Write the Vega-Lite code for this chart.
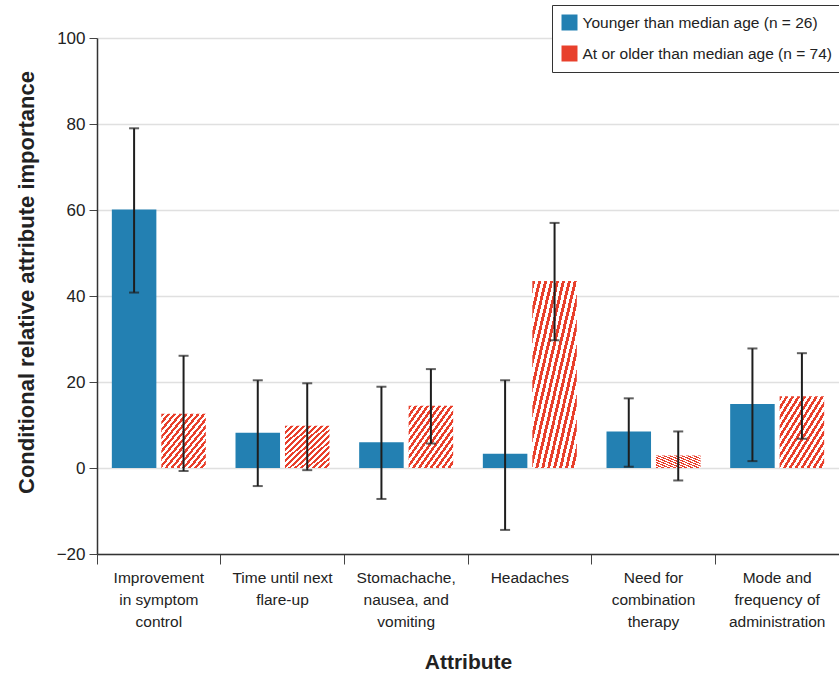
{
  "$schema": "https://vega.github.io/schema/vega-lite/v6.json",
  "width": 742,
  "height": 516,
  "autosize": {"type": "none"},
  "padding": {"left": 97, "top": 38, "right": 0, "bottom": 120},
  "background": "white",
  "data": {
    "values": [
      {"attribute": "Improvement in symptom control", "group": "Younger than median age (n = 26)", "value": 60.1, "lo": 40.8, "hi": 79.0},
      {"attribute": "Improvement in symptom control", "group": "At or older than median age (n = 74)", "value": 12.6, "lo": -0.7, "hi": 26.1},
      {"attribute": "Time until next flare-up", "group": "Younger than median age (n = 26)", "value": 8.2, "lo": -4.2, "hi": 20.4},
      {"attribute": "Time until next flare-up", "group": "At or older than median age (n = 74)", "value": 9.8, "lo": -0.5, "hi": 19.7},
      {"attribute": "Stomachache, nausea, and vomiting", "group": "Younger than median age (n = 26)", "value": 6.0, "lo": -7.2, "hi": 18.9},
      {"attribute": "Stomachache, nausea, and vomiting", "group": "At or older than median age (n = 74)", "value": 14.5, "lo": 5.7, "hi": 23.0},
      {"attribute": "Headaches", "group": "Younger than median age (n = 26)", "value": 3.3, "lo": -14.4, "hi": 20.4},
      {"attribute": "Headaches", "group": "At or older than median age (n = 74)", "value": 43.5, "lo": 29.7, "hi": 57.0},
      {"attribute": "Need for combination therapy", "group": "Younger than median age (n = 26)", "value": 8.5, "lo": 0.3, "hi": 16.2},
      {"attribute": "Need for combination therapy", "group": "At or older than median age (n = 74)", "value": 2.9, "lo": -2.9, "hi": 8.5},
      {"attribute": "Mode and frequency of administration", "group": "Younger than median age (n = 26)", "value": 14.9, "lo": 1.6, "hi": 27.8},
      {"attribute": "Mode and frequency of administration", "group": "At or older than median age (n = 74)", "value": 16.7, "lo": 6.8, "hi": 26.7}
    ]
  },
  "encoding": {
    "x": {
      "field": "attribute",
      "type": "nominal",
      "sort": null,
      "scale": {"paddingInner": 0, "paddingOuter": 0},
      "axis": {
        "title": "Attribute",
        "titleFont": "Liberation Sans, sans-serif",
        "titleFontSize": 21,
        "titleFontWeight": "bold",
        "titleColor": "#222",
        "titleBaseline": "alphabetic",
        "titleY": 114,
        "labelAngle": 0,
        "labelFont": "Liberation Sans, sans-serif",
        "labelFontSize": 15.5,
        "labelColor": "#222",
        "labelLineHeight": 22,
        "labelPadding": 6,
        "labelExpr": "datum.value == 'Improvement in symptom control' ? ['Improvement', 'in symptom', 'control'] : datum.value == 'Time until next flare-up' ? ['Time until next', 'flare-up'] : datum.value == 'Stomachache, nausea, and vomiting' ? ['Stomachache,', 'nausea, and', 'vomiting'] : datum.value == 'Need for combination therapy' ? ['Need for', 'combination', 'therapy'] : datum.value == 'Mode and frequency of administration' ? ['Mode and', 'frequency of', 'administration'] : datum.value",
        "bandPosition": 0,
        "tickSize": 10,
        "tickColor": "#444",
        "tickWidth": 1,
        "domainColor": "#333",
        "domainWidth": 1.5,
        "grid": false
      }
    },
    "xOffset": {
      "field": "group",
      "type": "nominal",
      "sort": ["Younger than median age (n = 26)", "At or older than median age (n = 74)"],
      "scale": {"paddingInner": 0.1, "paddingOuter": 0.3}
    }
  },
  "layer": [
    {
      "mark": {"type": "bar"},
      "encoding": {
        "y": {
          "field": "value",
          "type": "quantitative",
          "scale": {"domain": [-20, 100], "nice": false, "zero": false},
          "axis": {
            "title": "Conditional relative attribute importance",
            "titleFont": "Liberation Sans, sans-serif",
            "titleFontSize": 22,
            "titleFontWeight": "bold",
            "titleColor": "#222",
            "titleX": -59,
            "titleY": 244,
            "titleBaseline": "bottom",
            "values": [-20, 0, 20, 40, 60, 80, 100],
            "labelExpr": "datum.value < 0 ? '\u221220' : datum.label",
            "labelFont": "Liberation Sans, sans-serif",
            "labelFontSize": 17,
            "labelColor": "#222",
            "labelPadding": 4,
            "tickSize": 8,
            "tickColor": "#444",
            "domainColor": "#333",
            "domainWidth": 1.5,
            "grid": true,
            "gridColor": "#e0e0e0",
            "gridWidth": 1.5
          }
        },
        "color": {
          "condition": {
            "test": "datum.group == 'At or older than median age (n = 74)'",
            "value": {
              "gradient": "linear",
              "x1": 0, "y1": 0, "x2": 1, "y2": 1,
              "stops": [
                {"offset": 0, "color": "#e8402c"}, {"offset": 0.0333, "color": "#e8402c"}, {"offset": 0.0333, "color": "#ffffff"}, {"offset": 0.0667, "color": "#ffffff"},
                {"offset": 0.0667, "color": "#e8402c"}, {"offset": 0.1, "color": "#e8402c"}, {"offset": 0.1, "color": "#ffffff"}, {"offset": 0.1333, "color": "#ffffff"},
                {"offset": 0.1333, "color": "#e8402c"}, {"offset": 0.1667, "color": "#e8402c"}, {"offset": 0.1667, "color": "#ffffff"}, {"offset": 0.2, "color": "#ffffff"},
                {"offset": 0.2, "color": "#e8402c"}, {"offset": 0.2333, "color": "#e8402c"}, {"offset": 0.2333, "color": "#ffffff"}, {"offset": 0.2667, "color": "#ffffff"},
                {"offset": 0.2667, "color": "#e8402c"}, {"offset": 0.3, "color": "#e8402c"}, {"offset": 0.3, "color": "#ffffff"}, {"offset": 0.3333, "color": "#ffffff"},
                {"offset": 0.3333, "color": "#e8402c"}, {"offset": 0.3667, "color": "#e8402c"}, {"offset": 0.3667, "color": "#ffffff"}, {"offset": 0.4, "color": "#ffffff"},
                {"offset": 0.4, "color": "#e8402c"}, {"offset": 0.4333, "color": "#e8402c"}, {"offset": 0.4333, "color": "#ffffff"}, {"offset": 0.4667, "color": "#ffffff"},
                {"offset": 0.4667, "color": "#e8402c"}, {"offset": 0.5, "color": "#e8402c"}, {"offset": 0.5, "color": "#ffffff"}, {"offset": 0.5333, "color": "#ffffff"},
                {"offset": 0.5333, "color": "#e8402c"}, {"offset": 0.5667, "color": "#e8402c"}, {"offset": 0.5667, "color": "#ffffff"}, {"offset": 0.6, "color": "#ffffff"},
                {"offset": 0.6, "color": "#e8402c"}, {"offset": 0.6333, "color": "#e8402c"}, {"offset": 0.6333, "color": "#ffffff"}, {"offset": 0.6667, "color": "#ffffff"},
                {"offset": 0.6667, "color": "#e8402c"}, {"offset": 0.7, "color": "#e8402c"}, {"offset": 0.7, "color": "#ffffff"}, {"offset": 0.7333, "color": "#ffffff"},
                {"offset": 0.7333, "color": "#e8402c"}, {"offset": 0.7667, "color": "#e8402c"}, {"offset": 0.7667, "color": "#ffffff"}, {"offset": 0.8, "color": "#ffffff"},
                {"offset": 0.8, "color": "#e8402c"}, {"offset": 0.8333, "color": "#e8402c"}, {"offset": 0.8333, "color": "#ffffff"}, {"offset": 0.8667, "color": "#ffffff"},
                {"offset": 0.8667, "color": "#e8402c"}, {"offset": 0.9, "color": "#e8402c"}, {"offset": 0.9, "color": "#ffffff"}, {"offset": 0.9333, "color": "#ffffff"},
                {"offset": 0.9333, "color": "#e8402c"}, {"offset": 0.9667, "color": "#e8402c"}, {"offset": 0.9667, "color": "#ffffff"}, {"offset": 1, "color": "#ffffff"}
              ]
            }
          },
          "field": "group",
          "type": "nominal",
          "sort": ["Younger than median age (n = 26)", "At or older than median age (n = 74)"],
          "scale": {
            "domain": ["Younger than median age (n = 26)", "At or older than median age (n = 74)"],
            "range": ["#2380b2", "#e8402c"]
          },
          "legend": {
            "title": null,
            "orient": "none",
            "legendX": 455,
            "legendY": -33,
            "direction": "vertical",
            "fillColor": "white",
            "strokeColor": "#333",
            "padding": 9.5,
            "symbolType": "square",
            "symbolSize": 256,
            "symbolStrokeWidth": 0,
            "symbolOpacity": 1,
            "labelFont": "Liberation Sans, sans-serif",
            "labelFontSize": 15.5,
            "labelColor": "#222",
            "labelOffset": 5,
            "labelLimit": 400,
            "rowPadding": 14,
            "encode": {
              "symbols": {
                "update": {
                  "fill": {
                    "signal": "datum.value === 'At or older than median age (n = 74)' ? {gradient: 'linear', x1: 0, y1: 0, x2: 1, y2: 1, stops: [{offset: 0, color: '#e8402c'}, {offset: 0.0833, color: '#e8402c'}, {offset: 0.0833, color: '#ffffff'}, {offset: 0.1667, color: '#ffffff'}, {offset: 0.1667, color: '#e8402c'}, {offset: 0.25, color: '#e8402c'}, {offset: 0.25, color: '#ffffff'}, {offset: 0.3333, color: '#ffffff'}, {offset: 0.3333, color: '#e8402c'}, {offset: 0.4167, color: '#e8402c'}, {offset: 0.4167, color: '#ffffff'}, {offset: 0.5, color: '#ffffff'}, {offset: 0.5, color: '#e8402c'}, {offset: 0.5833, color: '#e8402c'}, {offset: 0.5833, color: '#ffffff'}, {offset: 0.6667, color: '#ffffff'}, {offset: 0.6667, color: '#e8402c'}, {offset: 0.75, color: '#e8402c'}, {offset: 0.75, color: '#ffffff'}, {offset: 0.8333, color: '#ffffff'}, {offset: 0.8333, color: '#e8402c'}, {offset: 0.9167, color: '#e8402c'}, {offset: 0.9167, color: '#ffffff'}, {offset: 1, color: '#ffffff'}]} : '#2380b2'"
                  }
                }
              }
            }
          }
        }
      }
    },
    {
      "mark": {"type": "rule", "color": "#1e1e1e", "strokeWidth": 2},
      "encoding": {
        "y": {"field": "lo", "type": "quantitative"},
        "y2": {"field": "hi"}
      }
    },
    {
      "mark": {"type": "tick", "color": "#1e1e1e", "thickness": 2, "size": 10, "orient": "horizontal"},
      "encoding": {
        "y": {"field": "lo", "type": "quantitative"}
      }
    },
    {
      "mark": {"type": "tick", "color": "#1e1e1e", "thickness": 2, "size": 10, "orient": "horizontal"},
      "encoding": {
        "y": {"field": "hi", "type": "quantitative"}
      }
    }
  ],
  "config": {
    "view": {"stroke": null}
  }
}
